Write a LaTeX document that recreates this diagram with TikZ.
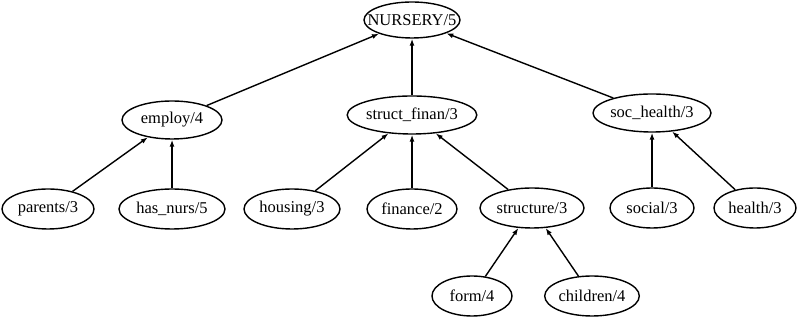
\documentclass[tikz,border=0pt]{standalone}
\usepackage{fontspec}
\setmainfont{Liberation Serif}
\usetikzlibrary{shapes.geometric,arrows.meta}
\begin{document}
\begin{tikzpicture}[x=1pt,y=1pt,
  nd/.style={draw,ellipse,line width=1.4pt,inner sep=0pt,minimum height=38pt,font=\fontsize{16.5}{18}\selectfont},
  ed/.style={line width=1.4pt,-{Latex[length=7pt,width=5pt]}}]
\useasboundingbox (0,0) rectangle (798,320);
\node[nd,minimum width=96pt,minimum height=36pt] (nur) at (412,300) {\makebox[0pt]{NURSERY/5}};
\node[nd,minimum width=100pt] (emp) at (172,200) {employ/4};
\node[nd,minimum width=128pt] (sf) at (412,205) {struct\_finan/3};
\node[nd,minimum width=118pt] (sh) at (652,207) {soc\_health/3};
\node[nd,minimum width=92pt,minimum height=40pt] (par) at (48,111) {parents/3};
\node[nd,minimum width=106pt,minimum height=40pt] (hn) at (172,111) {has\_nurs/5};
\node[nd,minimum width=96pt,minimum height=40pt] (hou) at (292,111) {housing/3};
\node[nd,minimum width=90pt,minimum height=40pt] (fin) at (412,111) {finance/2};
\node[nd,minimum width=104pt,minimum height=40pt] (str) at (532,112) {structure/3};
\node[nd,minimum width=84pt,minimum height=40pt] (soc) at (652,112) {social/3};
\node[nd,minimum width=82pt,minimum height=40pt] (hea) at (755,112) {health/3};
\node[nd,minimum width=80pt,minimum height=40pt] (frm) at (472,24) {form/4};
\node[nd,minimum width=94pt,minimum height=40pt] (chi) at (592,24) {children/4};
\draw[ed] (emp) -- (nur);
\draw[ed] (sf) -- (nur);
\draw[ed] (sh) -- (nur);
\draw[ed] (par) -- (emp);
\draw[ed] (hn) -- (emp);
\draw[ed] (hou) -- (sf);
\draw[ed] (fin) -- (sf);
\draw[ed] (str) -- (sf);
\draw[ed] (soc) -- (sh);
\draw[ed] (hea) -- (sh);
\draw[ed] (frm) -- (str);
\draw[ed] (chi) -- (str);
\end{tikzpicture}
\end{document}
